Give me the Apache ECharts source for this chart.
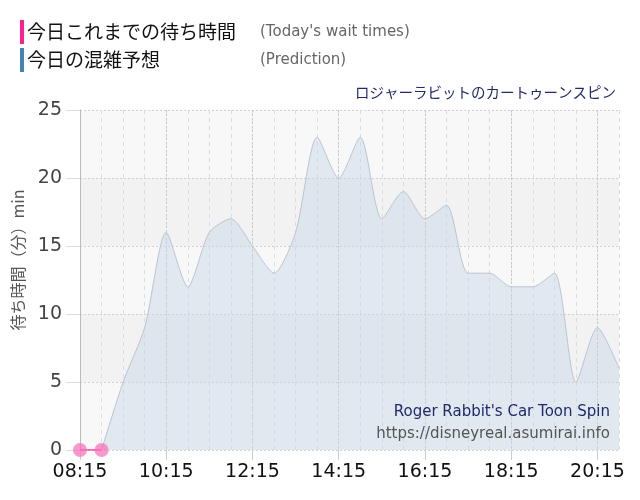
<!DOCTYPE html>
<html>
<head>
<meta charset="utf-8">
<script src="https://cdn.jsdelivr.net/npm/echarts@6/dist/echarts.min.js"></script>
<style>
  html, body { margin: 0; padding: 0; background: #fff; }
  #chart { width: 640px; height: 500px; }
</style>
</head>
<body>
<div id="chart"></div>
<script>
const times = [
  "08:15", "08:45", "09:15", "09:45", "10:15", "10:45", "11:15", "11:45", "12:15",
  "12:45", "13:15", "13:45", "14:15", "14:45", "15:15", "15:45", "16:15", "16:45",
  "17:15", "17:45", "18:15", "18:45", "19:15", "19:45", "20:15", "20:45",
];
const prediction = [
  null, 0, 5, 9, 16, 12, 16, 17, 15, 13, 16, 23, 20, 23, 17, 19, 17, 18,
  13, 13, 12, 12, 13, 5, 9, 6,
];
const actual = [0, 0];
const yTicks = [0, 5, 10, 15, 20, 25];

const jpFont = "'Noto Sans CJK JP', sans-serif";
const latinFont = "'DejaVu Sans', Verdana, sans-serif";

const chart = echarts.init(document.getElementById("chart"));
chart.setOption({
  animation: false,
  title: {
    text: "ロジャーラビットのカートゥーンスピン",
    right: 19,
    top: 80,
    textStyle: { fontFamily: jpFont, fontSize: 14.5, fontWeight: "normal", color: "#1f2a6b" },
  },
  graphic: [
    { type: "rect", left: 20, top: 20, shape: { width: 4, height: 24 }, style: { fill: "#ff1f8e" } },
    { type: "text", left: 27, top: 22, style: { text: "今日これまでの待ち時間", font: "19px " + jpFont, fill: "#111" } },
    { type: "text", left: 260, top: 25, style: { text: "(Today's wait times)", font: "15px " + latinFont, fill: "#666" } },
    { type: "rect", left: 20, top: 48, shape: { width: 4, height: 24 }, style: { fill: "#4682b4" } },
    { type: "text", left: 27, top: 50, style: { text: "今日の混雑予想", font: "19px " + jpFont, fill: "#111" } },
    { type: "text", left: 260, top: 53, style: { text: "(Prediction)", font: "15px " + latinFont, fill: "#666" } },
    {
      type: "text", x: 18, y: 260, rotation: Math.PI / 2,
      style: { text: "待ち時間（分）min", font: "16px " + jpFont, fill: "#555", align: "center", verticalAlign: "middle" },
    },
    { type: "text", right: 30, top: 405, z: 10, style: { text: "Roger Rabbit's Car Toon Spin", font: "15px " + latinFont, fill: "#1f2a6b" } },
    { type: "text", right: 30, top: 427, z: 10, style: { text: "https://disneyreal.asumirai.info", font: "15px " + latinFont, fill: "#555" } },
  ],
  grid: { left: 80, right: 21, top: 110, bottom: 50 },
  xAxis: [
    {
      type: "category",
      data: times,
      boundaryGap: false,
      axisLine: { show: false },
      axisTick: { show: true, interval: 3, length: 10, lineStyle: { color: "#ccc" } },
      axisLabel: { interval: 3, color: "#111", fontFamily: latinFont, fontSize: 19, margin: 13 },
      splitLine: { show: true, interval: 0, lineStyle: { color: "#d8dde2", type: [4, 4] } },
    },
    {
      type: "category",
      data: times,
      boundaryGap: false,
      position: "bottom",
      axisLine: { show: false },
      axisTick: { show: false },
      axisLabel: { show: false },
      splitLine: { show: true, interval: 3, lineStyle: { color: "#c8c8c8", type: [2, 2] } },
    },
  ],
  yAxis: {
    type: "value",
    min: yTicks[0],
    max: yTicks[yTicks.length - 1],
    interval: 5,
    axisLine: { show: true, lineStyle: { color: "#bbb" } },
    axisTick: { show: true, length: 14, lineStyle: { color: "#ddd" } },
    axisLabel: { color: "#444", fontFamily: latinFont, fontSize: 19, margin: 18 },
    splitLine: { show: true, lineStyle: { color: "#d0d0d0", type: [2, 2] } },
    splitArea: { show: true, areaStyle: { color: ["#f8f8f8", "#f2f2f2"] } },
  },
  series: [
    {
      name: "今日の混雑予想",
      type: "line",
      data: prediction,
      smooth: 0.25,
      showSymbol: false,
      lineStyle: { color: "#b9c5d0", width: 1 },
      areaStyle: { color: "rgba(198,214,228,0.65)" },
      z: 2,
    },
    {
      name: "今日これまでの待ち時間",
      type: "line",
      data: actual,
      symbol: "circle",
      symbolSize: 14,
      showAllSymbol: true,
      itemStyle: { color: "rgba(245,110,185,0.7)" },
      lineStyle: { color: "#ff3399", width: 1.5 },
      z: 5,
    },
  ],
});
</script>
</body>
</html>
